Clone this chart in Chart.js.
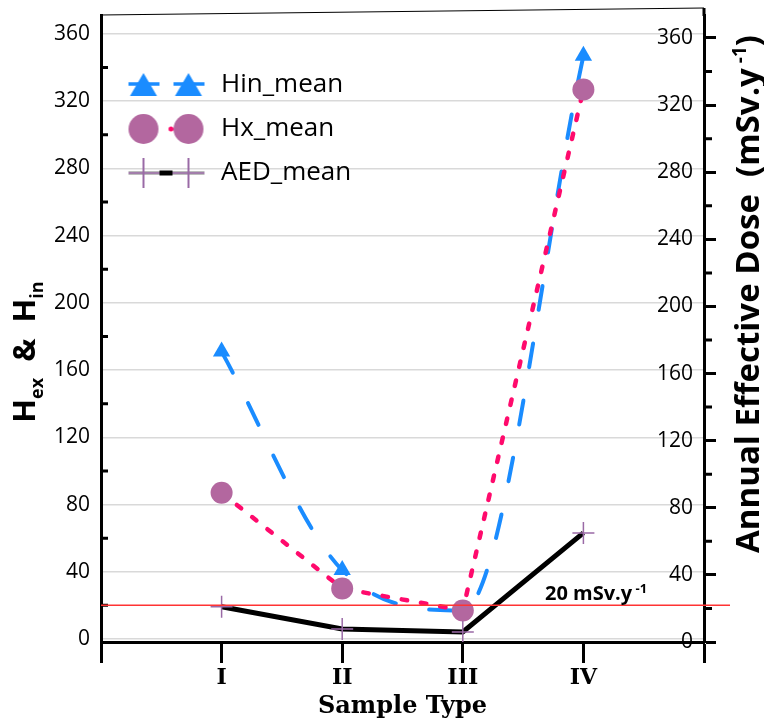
<!DOCTYPE html>
<html><head><meta charset="utf-8">
<style>html,body{margin:0;padding:0;background:#fff;}#wrap{width:764px;height:719px;}</style>
<script src="https://cdn.jsdelivr.net/npm/chart.js"></script>
</head><body><div id="wrap"><canvas id="c" width="764" height="719"></canvas></div>
<script>
// ---- data ----
const categories = ['I', 'II', 'III', 'IV'];
const hinMean = [171, 41, 17, 347];
const hxMean = [87, 30, 17, 327];
const aedMean = [21, 7.7, 6, 65];
const seriesNames = ['Hin_mean', 'Hx_mean', 'AED_mean'];
const leftTicks = [0, 40, 80, 120, 160, 200, 240, 280, 320, 360];
const rightTicks = [0, 40, 80, 120, 160, 200, 240, 280, 320, 360];
const minorTicks = [20, 60, 100, 140, 180, 220, 260, 300, 340];
const thresholdValue = 20;
const thresholdText = '20 mSv.y';
const thresholdSup = ' -1';

// ---- styles ----
const BLUE = '#1a8cff', PINK = '#ff0a6c', MAUVE = '#b3679f', PLUS = '#9a6aa6';
const FONT = 'Open Sans';

function makeSym(kind) {
  const c = document.createElement('canvas');
  c.width = 84; c.height = 36;
  const g = c.getContext('2d');
  const cy = 18, xs = [22, 67];
  if (kind === 0) {
    g.strokeStyle = BLUE; g.lineWidth = 3.5;
    g.beginPath(); g.moveTo(7, cy - 1); g.lineTo(38, cy - 1); g.moveTo(52, cy - 1); g.lineTo(83, cy - 1); g.stroke();
    g.fillStyle = BLUE;
    xs.forEach(x => { g.beginPath(); g.moveTo(x, cy - 12); g.lineTo(x + 13.5, cy + 11); g.lineTo(x - 13.5, cy + 11); g.closePath(); g.fill(); });
  } else if (kind === 1) {
    g.fillStyle = PINK; g.beginPath(); g.arc(49.5, cy, 2.5, 0, Math.PI * 2); g.fill();
    g.fillStyle = MAUVE;
    xs.forEach(x => { g.beginPath(); g.arc(x, cy, 15, 0, Math.PI * 2); g.fill(); });
  } else {
    g.strokeStyle = '#bdbdbd'; g.lineWidth = 4;
    g.beginPath(); g.moveTo(7, cy); g.lineTo(83, cy); g.stroke();
    g.strokeStyle = PLUS; g.lineWidth = 1.5;
    g.beginPath(); g.moveTo(7, cy); g.lineTo(83, cy); g.stroke();
    g.strokeStyle = '#000'; g.lineWidth = 5;
    g.beginPath(); g.moveTo(38, cy); g.lineTo(51, cy); g.stroke();
    g.strokeStyle = PLUS; g.lineWidth = 2;
    xs.forEach(x => { g.beginPath(); g.moveTo(x, cy - 15); g.lineTo(x, cy + 15); g.stroke(); });
  }
  return c;
}
const syms = [makeSym(0), makeSym(1), makeSym(2)];

function richText(ctx, segs, cx, cy, rot, align) {
  ctx.save();
  ctx.translate(cx, cy);
  ctx.rotate(rot || 0);
  let total = 0;
  segs.forEach(s => { ctx.font = s.f; s.w = ctx.measureText(s.t).width; total += s.w; });
  let x = align === 'left' ? 0 : -total / 2;
  ctx.textAlign = 'left'; ctx.textBaseline = 'alphabetic'; ctx.fillStyle = '#000';
  segs.forEach(s => { ctx.font = s.f; ctx.fillText(s.t, x, s.dy || 0); x += s.w; });
  ctx.restore();
}

const deco = {
  id: 'deco',
  afterDraw(chart) {
    const { ctx, chartArea: a, scales } = chart;
    const y = scales.y, y2 = scales.y2;
    ctx.save();
    ctx.strokeStyle = '#000';
    ctx.lineWidth = 1.2;
    ctx.beginPath(); ctx.moveTo(a.left - 1, a.top); ctx.lineTo(a.right, a.top - 7); ctx.stroke();
    ctx.lineWidth = 3;
    ctx.beginPath(); ctx.moveTo(a.right, a.top + 1); ctx.lineTo(a.right, a.top - 7); ctx.stroke();
    ctx.beginPath();
    minorTicks.forEach(v => {
      const p = y.getPixelForValue(v);
      ctx.moveTo(a.left, p); ctx.lineTo(a.left + 7, p);
      const p2 = y2.getPixelForValue(v);
      ctx.moveTo(a.right, p2); ctx.lineTo(a.right + 8, p2);
    });
    ctx.stroke();
    // threshold line
    const ty = y.getPixelForValue(thresholdValue);
    ctx.strokeStyle = '#ff3333'; ctx.lineWidth = 1.5;
    ctx.beginPath(); ctx.moveTo(a.left, ty); ctx.lineTo(a.right + 26, ty); ctx.stroke();
    ctx.restore();
    richText(ctx, [
      { t: thresholdText, f: 'bold 20px "' + FONT + '"' },
      { t: thresholdSup, f: 'bold 13px "' + FONT + '"', dy: -7 }
    ], a.right - 159, ty - 5, 0, 'left');
    // left title
    richText(ctx, [
      { t: 'H', f: 'bold 31px "' + FONT + '"' },
      { t: 'ex', f: 'bold 18px "' + FONT + '"', dy: 8 },
      { t: '  &  ', f: 'bold 31px "' + FONT + '"' },
      { t: 'H', f: 'bold 31px "' + FONT + '"' },
      { t: 'in', f: 'bold 18px "' + FONT + '"', dy: 8 }
    ], 35, 352, -Math.PI / 2);
    // right title
    richText(ctx, [
      { t: 'Annual Effective Dose  (mSv.y', f: 'bold 33px "' + FONT + '"' },
      { t: ' -1', f: 'bold 19px "' + FONT + '"', dy: -13 },
      { t: ')', f: 'bold 33px "' + FONT + '"' }
    ], 759, 294, -Math.PI / 2);
  }
};

const pts = arr => categories.map((c, i) => ({ x: c, y: arr[i] }));
const noPad = s => { s.paddingTop = 0; s.paddingBottom = 0; s.paddingLeft = 0; s.paddingRight = 0; };

new Chart(document.getElementById('c'), {
  type: 'line',
  data: {
    datasets: [
      {
        label: seriesNames[0], data: pts(hinMean), yAxisID: 'y', order: 3,
        borderColor: BLUE, backgroundColor: BLUE, borderWidth: 4, borderDash: [24, 34], borderCapStyle: 'round',
        cubicInterpolationMode: 'monotone',
        pointStyle: 'triangle', pointRadius: 10, pointBackgroundColor: BLUE, pointBorderWidth: 0
      },
      {
        label: seriesNames[1], data: pts(hxMean), yAxisID: 'y', order: 2,
        borderColor: PINK, backgroundColor: MAUVE, borderWidth: 4.5, borderDash: [5.5, 14], borderCapStyle: 'round',
        tension: 0,
        pointStyle: 'circle', pointRadius: 11, pointBackgroundColor: MAUVE, pointBorderWidth: 0
      },
      {
        label: seriesNames[2], data: pts(aedMean), yAxisID: 'y2', order: 1,
        borderColor: '#000', backgroundColor: '#000', borderWidth: 5, tension: 0,
        pointStyle: 'cross', pointRadius: 11, pointBorderColor: PLUS, pointBorderWidth: 1.5
      }
    ]
  },
  options: {
    responsive: false, animation: false, events: [], devicePixelRatio: 1,
    layout: { padding: { top: 15, left: 0, right: 0, bottom: 0 } },
    plugins: {
      tooltip: { enabled: false },
      legend: {
        position: 'chartArea', align: 'start',
        title: { display: true, text: ' ', font: { size: 10, lineHeight: 1 }, padding: { top: 44, bottom: 0 } },
        labels: {
          usePointStyle: true, pointStyleWidth: 89, padding: 18, color: '#000',
          font: { family: FONT, size: 26 },
          generateLabels: () => seriesNames.map((n, i) => ({
            text: n, pointStyle: syms[i], fillStyle: 'rgba(0,0,0,0)', strokeStyle: 'rgba(0,0,0,0)',
            lineWidth: 0, hidden: false, datasetIndex: i, fontColor: '#000'
          }))
        }
      }
    },
    scales: {
      x: {
        type: 'category', labels: ['', ...categories, ''], offset: false,
        grid: { drawOnChartArea: false, drawTicks: true, tickLength: 21, tickColor: '#000', tickWidth: 3 },
        border: { color: '#000', width: 3 },
        ticks: { autoSkip: false, maxRotation: 0, padding: 2, color: '#000', font: { family: 'DejaVu Serif', weight: 'bold', size: 22 } },
        title: { display: true, text: 'Sample Type', color: '#000', padding: 0, font: { family: 'DejaVu Serif', weight: 'bold', size: 24, lineHeight: 1 } },
        afterFit: s => { s.height = 77; noPad(s); }
      },
      y: {
        type: 'linear', position: 'left', min: -1.8, max: 371.3,
        afterBuildTicks: s => { s.ticks = leftTicks.map(v => ({ value: v })); },
        grid: { color: '#d9d9d9', lineWidth: 1.5, drawTicks: false },
        border: { color: '#000', width: 3 },
        ticks: { padding: 11, color: '#000', font: { family: FONT, size: 21 } },
        afterFit: s => { s.width = 101; noPad(s); }
      },
      y2: {
        type: 'linear', position: 'right', min: 0, max: 373.7,
        afterBuildTicks: s => { s.ticks = rightTicks.map(v => ({ value: v })); },
        grid: { drawOnChartArea: false, drawTicks: true, tickLength: 12, tickColor: '#000', tickWidth: 3 },
        border: { color: '#000', width: 3 },
        ticks: { mirror: true, padding: -11, color: '#000', font: { family: FONT, size: 21 } },
        afterFit: s => { s.width = 60; noPad(s); }
      }
    }
  },
  plugins: [deco]
});
</script>
</body></html>
